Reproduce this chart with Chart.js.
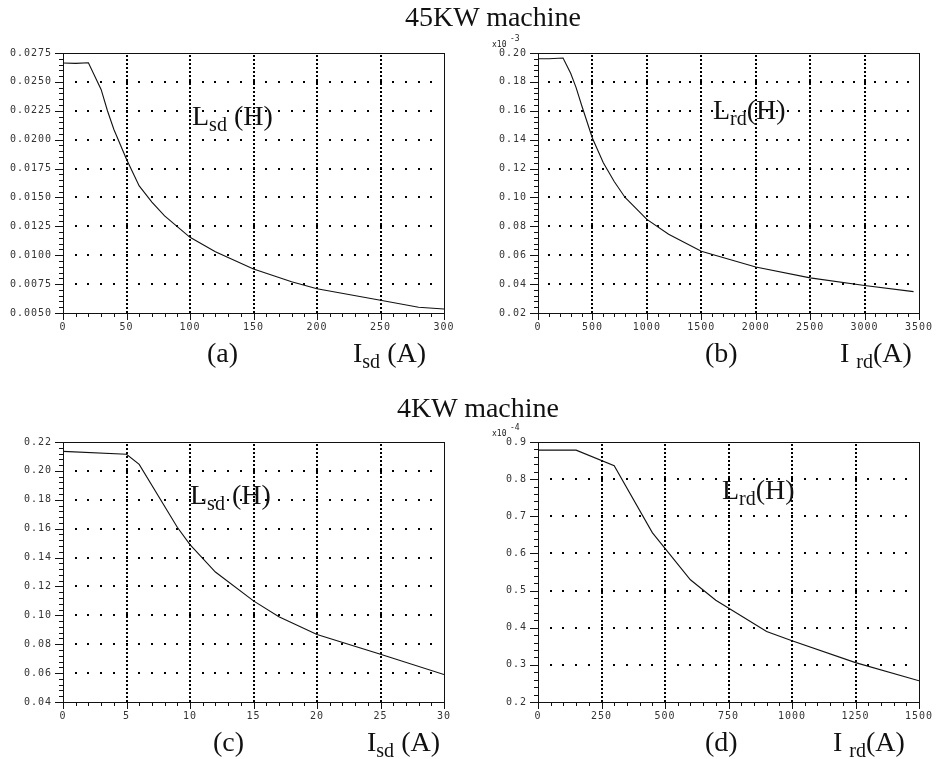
<!DOCTYPE html>
<html>
<head>
<meta charset="utf-8">
<script src="https://cdn.jsdelivr.net/npm/chart.js@4.4.0/dist/chart.umd.min.js"></script>
<style>
  body { margin: 0; background: #fff; }
  #page { position: relative; width: 937px; height: 759px; overflow: hidden;
          font-family: "Liberation Serif", "Times New Roman", serif; color: #111; }
  .cv { position: absolute; }
  .t { position: absolute; font-size: 28px; line-height: 28px; white-space: nowrap; }
  .t .s { font-size: 20px; position: relative; top: 6px; }
  .ex { position: absolute; font-family: "DejaVu Sans Mono", monospace; font-size: 8px;
        line-height: 8px; color: #222; white-space: nowrap; }
</style>
</head>
<body>
<div id="page">
  <div class="cv" style="left:0;top:0;width:468px;height:340px"><canvas id="ca"></canvas></div>
  <div class="cv" style="left:475px;top:0;width:462px;height:340px"><canvas id="cb"></canvas></div>
  <div class="cv" style="left:0;top:389px;width:468px;height:340px"><canvas id="cc"></canvas></div>
  <div class="cv" style="left:475px;top:389px;width:462px;height:340px"><canvas id="cd"></canvas></div>

  <div class="t" style="left:405px;top:3px">45KW machine</div>
  <div class="t" style="left:397px;top:394px">4KW machine</div>

  <div class="t" style="left:192px;top:102px">L<span class="s">sd</span> (H)</div>
  <div class="t" style="left:713px;top:96px">L<span class="s">rd</span>(H)</div>
  <div class="t" style="left:190px;top:481px">L<span class="s">sd</span> (H)</div>
  <div class="t" style="left:722px;top:476px">L<span class="s">rd</span>(H)</div>

  <div class="t" style="left:207px;top:339px">(a)</div>
  <div class="t" style="left:353px;top:339px">I<span class="s">sd</span> (A)</div>
  <div class="t" style="left:705px;top:339px">(b)</div>
  <div class="t" style="left:840px;top:339px">I <span class="s">rd</span>(A)</div>
  <div class="t" style="left:213px;top:728px">(c)</div>
  <div class="t" style="left:367px;top:728px">I<span class="s">sd</span> (A)</div>
  <div class="t" style="left:705px;top:728px">(d)</div>
  <div class="t" style="left:833px;top:728px">I <span class="s">rd</span>(A)</div>

  <div class="ex" style="left:492px;top:41px">x10</div>
  <div class="ex" style="left:510px;top:35px">-3</div>
  <div class="ex" style="left:492px;top:430px">x10</div>
  <div class="ex" style="left:510px;top:424px">-4</div>
</div>

<script>
// (a) 45KW stator d-axis inductance vs I_sd
const A_X = [0, 10, 20, 30, 35, 40, 50, 60, 70, 80, 100, 120, 150, 180, 200, 250, 280, 300];
const A_Y = [0.02663, 0.02660, 0.02665, 0.02435, 0.0225, 0.0209, 0.0183, 0.0160, 0.0146, 0.0134,
             0.01155, 0.0103, 0.0088, 0.0077, 0.0071, 0.0061, 0.0055, 0.00535];
const A_XTICKS = [0, 50, 100, 150, 200, 250, 300];
const A_YTICKS = [0.0050, 0.0075, 0.0100, 0.0125, 0.0150, 0.0175, 0.0200, 0.0225, 0.0250, 0.0275];

// (b) 45KW rotor d-axis inductance vs I_rd (x10^-3 H)
const B_X = [0, 100, 230, 300, 350, 400, 500, 600, 700, 800, 1000, 1200, 1500, 2000, 2500, 3000, 3450];
const B_Y = [0.196, 0.196, 0.1965, 0.186, 0.176, 0.164, 0.141, 0.124, 0.111, 0.100,
             0.0848, 0.0745, 0.0628, 0.0518, 0.0443, 0.0390, 0.0348];
const B_XTICKS = [0, 500, 1000, 1500, 2000, 2500, 3000, 3500];
const B_YTICKS = [0.02, 0.04, 0.06, 0.08, 0.10, 0.12, 0.14, 0.16, 0.18, 0.20];

// (c) 4KW stator d-axis inductance vs I_sd
const C_X = [0, 5, 6, 9, 10, 12, 15, 17, 20, 25, 30];
const C_Y = [0.2135, 0.2115, 0.2045, 0.161, 0.149, 0.130, 0.110, 0.099, 0.0868, 0.073, 0.059];
const C_XTICKS = [0, 5, 10, 15, 20, 25, 30];
const C_YTICKS = [0.04, 0.06, 0.08, 0.10, 0.12, 0.14, 0.16, 0.18, 0.20, 0.22];

// (d) 4KW rotor d-axis inductance vs I_rd (x10^-4 H)
const D_X = [0, 150, 300, 450, 600, 700, 900, 1000, 1250, 1500];
const D_Y = [0.878, 0.878, 0.836, 0.656, 0.529, 0.474, 0.390, 0.365, 0.306, 0.257];
const D_XTICKS = [0, 250, 500, 750, 1000, 1250, 1500];
const D_YTICKS = [0.2, 0.3, 0.4, 0.5, 0.6, 0.7, 0.8, 0.9];

const TICK_FONT = { family: '"DejaVu Sans Mono", monospace', size: 10 };

function steps(min, max, step) {
    const out = [];
    const n = Math.round((max - min) / step);
    for (let i = 0; i <= n; i++) out.push(min + i * step);
    return out;
}

// frame, dotted grid and minor ticks drawn through the chart's own scales
const scopePlugin = {
    id: 'scope',
    beforeDraw(chart) {
        // wide spacing like the plotter's tick font
        chart.ctx.letterSpacing = '1px';
    },
    beforeDatasetsDraw(chart) {
        const o = chart.options.plugins.scope;
        const { ctx, chartArea: ca, scales: { x, y } } = chart;
        ctx.save();
        // vertical dense dotted lines at inner major x ticks
        ctx.strokeStyle = '#000';
        ctx.lineWidth = 2;
        ctx.setLineDash([2, 2]);
        o.xTicks.slice(1, -1).forEach(v => {
            const px = Math.round(x.getPixelForValue(v));
            ctx.beginPath();
            ctx.moveTo(px, ca.top + 2);
            ctx.lineTo(px, ca.bottom);
            ctx.stroke();
        });
        ctx.setLineDash([]);
        // horizontal rows of dots: one dot per minor x step
        ctx.fillStyle = '#000';
        const xm = steps(o.xTicks[0], o.xTicks[o.xTicks.length - 1], o.xMinor).slice(1, -1);
        o.yTicks.slice(1, -1).forEach(v => {
            const py = Math.round(y.getPixelForValue(v));
            xm.forEach(xv => {
                const px = Math.round(x.getPixelForValue(xv));
                ctx.fillRect(px - 1, py - 1, 2, 2);
            });
        });
        ctx.restore();
    },
    afterDraw(chart) {
        const o = chart.options.plugins.scope;
        const { ctx, chartArea: ca, scales: { x, y } } = chart;
        const l = Math.round(ca.left), r = Math.round(ca.right);
        const t = Math.round(ca.top), b = Math.round(ca.bottom);
        ctx.save();
        ctx.strokeStyle = '#111';
        ctx.lineWidth = 1;
        ctx.strokeRect(l + 0.5, t + 0.5, r - l, b - t);
        ctx.beginPath();
        steps(o.yTicks[0], o.yTicks[o.yTicks.length - 1], o.yMinor).forEach((v, i) => {
            const py = Math.round(y.getPixelForValue(v)) + 0.5;
            const len = i % o.ySub === 0 ? 8 : 4;
            ctx.moveTo(l - len, py);
            ctx.lineTo(l, py);
        });
        steps(o.xTicks[0], o.xTicks[o.xTicks.length - 1], o.xMinor).forEach((v, i) => {
            const px = Math.round(x.getPixelForValue(v)) + 0.5;
            const len = i % o.xSub === 0 ? 7 : 4;
            ctx.moveTo(px, b);
            ctx.lineTo(px, b + len);
        });
        ctx.stroke();
        ctx.restore();
    }
};

function makePanel(id, xs, ys, xTicks, yTicks, yDec, xSub, ySub, padRight) {
    const xStep = xTicks[1] - xTicks[0];
    const yStep = yTicks[1] - yTicks[0];
    return new Chart(document.getElementById(id), {
        type: 'line',
        data: {
            datasets: [{
                data: xs.map((v, i) => ({ x: v, y: ys[i] })),
                borderColor: '#111',
                borderWidth: 1.1,
                pointRadius: 0,
                tension: 0,
                fill: false
            }]
        },
        options: {
            responsive: true,
            maintainAspectRatio: false,
            animation: false,
            layout: { padding: { top: 53, right: padRight, bottom: 7, left: 0 } },
            plugins: {
                legend: { display: false },
                tooltip: { enabled: false },
                scope: {
                    xTicks, yTicks,
                    xMinor: xStep / xSub, yMinor: yStep / ySub,
                    xSub, ySub
                }
            },
            scales: {
                x: {
                    type: 'linear',
                    min: xTicks[0],
                    max: xTicks[xTicks.length - 1],
                    grid: { display: false, drawTicks: false },
                    border: { display: false },
                    afterBuildTicks: s => { s.ticks = xTicks.map(v => ({ value: v })); },
                    afterFit: s => { s.height = 20; s.paddingLeft = 0; s.paddingRight = 0; },
                    ticks: {
                        autoSkip: false, maxRotation: 0, padding: 8,
                        color: '#333', font: TICK_FONT,
                        callback: v => String(v)
                    }
                },
                y: {
                    type: 'linear',
                    min: yTicks[0],
                    max: yTicks[yTicks.length - 1],
                    grid: { display: false, drawTicks: false },
                    border: { display: false },
                    afterBuildTicks: s => { s.ticks = yTicks.map(v => ({ value: v })); },
                    afterFit: s => { s.width = 63; s.paddingTop = 0; s.paddingBottom = 0; },
                    ticks: {
                        autoSkip: false, padding: 11,
                        color: '#333', font: TICK_FONT,
                        callback: v => v.toFixed(yDec)
                    }
                }
            }
        },
        plugins: [scopePlugin]
    });
}

makePanel('ca', A_X, A_Y, A_XTICKS, A_YTICKS, 4, 5, 5, 24);
makePanel('cb', B_X, B_Y, B_XTICKS, B_YTICKS, 2, 5, 5, 18);
makePanel('cc', C_X, C_Y, C_XTICKS, C_YTICKS, 2, 5, 5, 24);
makePanel('cd', D_X, D_Y, D_XTICKS, D_YTICKS, 1, 5, 5, 18);
</script>
</body>
</html>
